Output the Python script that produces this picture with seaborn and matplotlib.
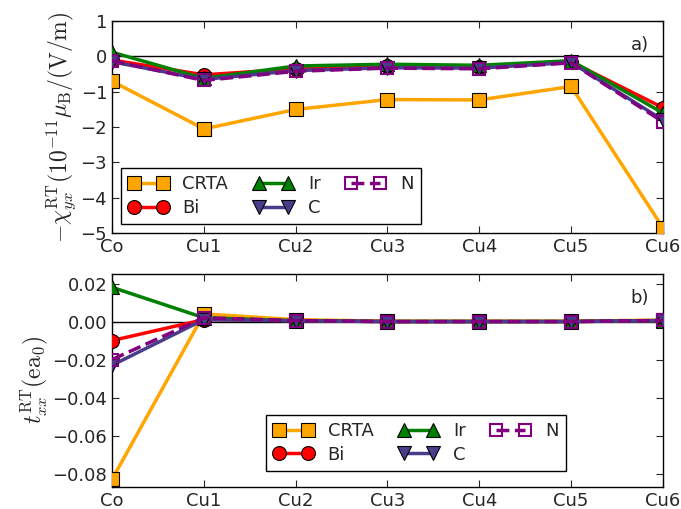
import numpy as np
import pandas as pd
import matplotlib
matplotlib.use('Agg')
import matplotlib.pyplot as plt
import seaborn as sns

# Sites along the slab
sites = ['Co', 'Cu1', 'Cu2', 'Cu3', 'Cu4', 'Cu5', 'Cu6']
series_names = ['CRTA', 'Bi', 'Ir', 'C', 'N']

# panel a) -chi_yx (1e-11 muB/(V/m))
chi_crta = [-0.70, -2.05, -1.50, -1.22, -1.23, -0.85, -4.85]
chi_bi = [-0.10, -0.52, -0.35, -0.28, -0.30, -0.15, -1.45]
chi_ir = [0.12, -0.62, -0.27, -0.22, -0.25, -0.12, -1.60]
chi_c = [-0.15, -0.65, -0.40, -0.32, -0.33, -0.17, -1.80]
chi_n = [-0.12, -0.68, -0.42, -0.33, -0.35, -0.18, -1.85]

# panel b) t_xx (e a0)
t_crta = [-0.083, 0.004, 0.001, 0.0002, 0.0002, 0.0002, 0.0008]
t_bi = [-0.010, 0.001, 0.0005, 0.0, 0.0, 0.0, 0.0005]
t_ir = [0.018, 0.002, 0.0004, 0.0, 0.0, 0.0, 0.0005]
t_c = [-0.023, 0.001, 0.0004, 0.0, 0.0, 0.0, 0.0005]
t_n = [-0.020, 0.002, 0.0005, 0.0, 0.0, 0.0, 0.0006]

chi_values = [chi_crta, chi_bi, chi_ir, chi_c, chi_n]
t_values = [t_crta, t_bi, t_ir, t_c, t_n]

colors = {'CRTA': 'orange', 'Bi': 'red', 'Ir': 'green', 'C': 'darkslateblue', 'N': 'purple'}
markers = {'CRTA': 's', 'Bi': 'o', 'Ir': '^', 'C': 'v', 'N': 's'}

sns.set_style('ticks')
plt.rcParams.update({
    'font.family': 'DejaVu Sans',
    'font.size': 13,
    'mathtext.fontset': 'cm',
    'xtick.direction': 'in',
    'ytick.direction': 'in',
    'xtick.top': True,
    'ytick.right': True,
    'xtick.major.size': 5,
    'ytick.major.size': 5,
    'axes.linewidth': 1.0,
    'axes.edgecolor': 'black',
})


def draw_panel(ax, values):
    x = np.arange(len(sites))
    ax.axhline(0, color='black', lw=1.0, zorder=1)
    for name, vals in zip(series_names, values):
        df = pd.DataFrame({'x': x, 'y': vals})
        if name == 'N':
            sns.lineplot(data=df, x='x', y='y', ax=ax, color=colors[name], lw=2.5,
                         linestyle='--', marker=markers[name], markersize=9,
                         markerfacecolor='none', markeredgecolor=colors[name],
                         markeredgewidth=1.5, label=name, zorder=3)
        else:
            sns.lineplot(data=df, x='x', y='y', ax=ax, color=colors[name], lw=2.5,
                         marker=markers[name], markersize=10,
                         markeredgecolor='black', markeredgewidth=0.8,
                         label=name, zorder=3)
    ax.set_xlim(0, len(sites) - 1)
    ax.set_xticks(x)
    ax.set_xticklabels(sites)
    ax.set_xlabel('')
    ax.tick_params(labelsize=13)


fig = plt.figure(figsize=(6.81, 5.09), dpi=100)
ax1 = fig.add_axes([0.1645, 0.542, 0.809, 0.4165])
ax2 = fig.add_axes([0.1645, 0.0432, 0.809, 0.4185])

draw_panel(ax1, chi_values)
ax1.set_ylim(-5, 1)
ax1.set_yticks([1, 0, -1, -2, -3, -4, -5])
ax1.set_ylabel(r'$-\chi^{\rm RT}_{yx}(10^{-11}\mu_{\rm B}/({\rm V/m})$', fontsize=17, labelpad=2)
ax1.text(0.975, 0.93, 'a)', transform=ax1.transAxes, ha='right', va='top', fontsize=13)
ax1.legend(loc='lower left', ncol=3, numpoints=2, fontsize=13, fancybox=False,
           edgecolor='black', framealpha=1, handlelength=2.2, columnspacing=1.4,
           borderaxespad=0.5, labelspacing=0.3)

draw_panel(ax2, t_values)
ax2.set_ylim(-0.087, 0.025)
ax2.set_yticks([0.02, 0.0, -0.02, -0.04, -0.06, -0.08])
ax2.set_yticklabels(['0.02', '0.00', '\u22120.02', '\u22120.04', '\u22120.06', '\u22120.08'])
ax2.set_ylabel(r'$t^{\rm RT}_{xx}({\rm ea}_0)$', fontsize=17, labelpad=2)
ax2.text(0.975, 0.93, 'b)', transform=ax2.transAxes, ha='right', va='top', fontsize=13)
ax2.legend(loc='lower left', bbox_to_anchor=(0.28, 0.075), ncol=3, numpoints=2, fontsize=13,
           fancybox=False, edgecolor='black', framealpha=1, handlelength=2.2,
           columnspacing=1.4, borderaxespad=0, labelspacing=0.3)

fig.savefig('out.png', dpi=100)
